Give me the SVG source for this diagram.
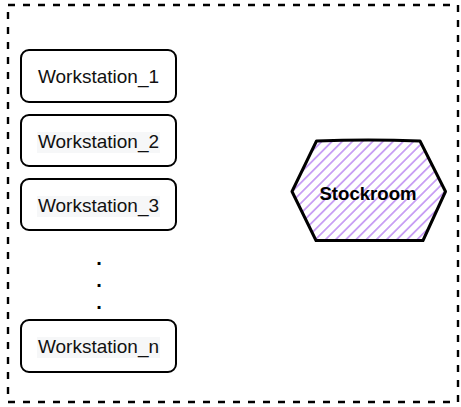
<svg xmlns="http://www.w3.org/2000/svg" width="461" height="407" viewBox="0 0 461 407">
  <style>
    .frame { fill: none; stroke: #000; stroke-width: 2.4; stroke-dasharray: 7 8; }
    .ws { fill: #fff; stroke: #000; stroke-width: 2; }
    .lbl { font-family: "Liberation Sans", Arial, sans-serif; font-size: 19px; fill: #111; text-anchor: middle; }
    .lblbg { fill: #f6f7f8; }
    .dot { font-family: "Liberation Sans", Arial, sans-serif; font-size: 20px; font-weight: bold; fill: #000; text-anchor: middle; }
    .hex { fill: url(#hatch); stroke: #000; stroke-width: 3; stroke-linejoin: round; }
    .hexlbl { font-family: "Liberation Sans", Arial, sans-serif; font-size: 18.6px; font-weight: bold; fill: #000; text-anchor: middle; }
  </style>
  <defs>
    <pattern id="hatch" patternUnits="userSpaceOnUse" width="7.2" height="7.2" patternTransform="rotate(-45)">
      <rect width="7.2" height="7.2" fill="#fff"/>
      <line x1="0" y1="3.6" x2="7.2" y2="3.6" stroke="#b884f2" stroke-width="1.4"/>
    </pattern>
  </defs>

  <!-- dashed boundary -->
  <rect class="frame" x="8" y="5" width="450" height="397"/>

  <g id="workstation-1">
    <rect class="ws" x="21" y="50" width="155" height="52" rx="8"/>
    <text class="lbl" x="98.5" y="83">Workstation_1</text>
  </g>
  <g id="workstation-2">
    <rect class="ws" x="21" y="115" width="155" height="51" rx="8"/>
    <rect class="lblbg" x="37" y="132" width="123" height="21"/>
    <text class="lbl" x="98.5" y="147.5">Workstation_2</text>
  </g>
  <g id="workstation-3">
    <rect class="ws" x="21" y="179" width="155" height="51" rx="8"/>
    <rect class="lblbg" x="37" y="196" width="123" height="21"/>
    <text class="lbl" x="98.5" y="211.5">Workstation_3</text>
  </g>
  <g id="ellipsis">
    <text class="dot" x="99" y="265">.</text>
    <text class="dot" x="99" y="287">.</text>
    <text class="dot" x="99" y="309">.</text>
  </g>
  <g id="workstation-n">
    <rect class="ws" x="21" y="320" width="155" height="52" rx="8"/>
    <rect class="lblbg" x="37" y="337" width="123" height="21"/>
    <text class="lbl" x="98.5" y="352.5">Workstation_n</text>
  </g>

  <g id="stockroom">
    <path class="hex" d="M316.5 141 Q368 139 420 141 L445.5 191.5 L423 240.5 L316 240.5 L292 191.5 Z"/>
    <text class="hexlbl" x="368" y="200">Stockroom</text>
  </g>

  <g id="connectors"/>
</svg>
